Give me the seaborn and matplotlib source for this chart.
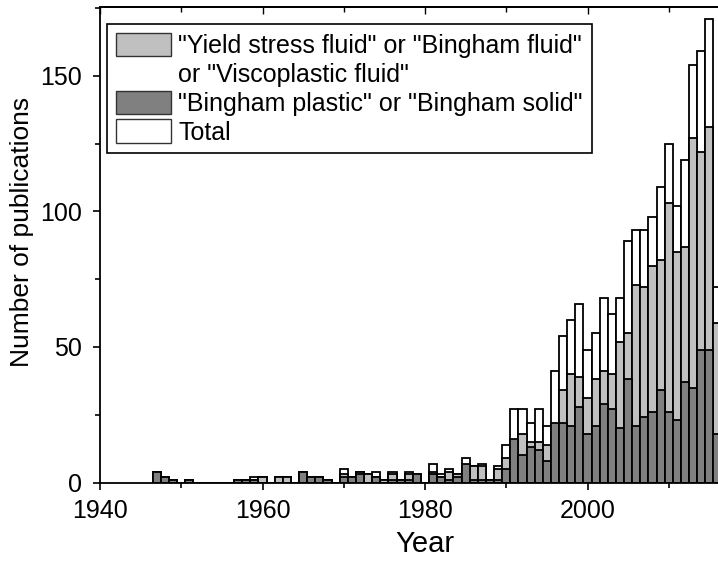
import matplotlib
matplotlib.use("Agg")
import matplotlib.pyplot as plt
import seaborn as sns
import pandas as pd
import numpy as np
from matplotlib.patches import Patch
from matplotlib.ticker import FixedLocator

years = list(range(1947, 2017))
total = [4, 2, 1, 0, 1, 0, 0, 0, 0, 0,          # 1947-1956
         1, 1, 2, 2, 0, 2, 2, 0, 4, 2,          # 1957-1966
         2, 1, 0, 5, 2, 4, 3, 4, 1, 4,          # 1967-1976
         1, 4, 3, 0, 7, 3, 5, 3, 9, 6,          # 1977-1986
         7, 1, 6, 14, 27, 27, 22, 27, 21, 41,   # 1987-1996
         54, 60, 66, 49, 55, 68, 62, 68, 89, 93,  # 1997-2006
         93, 98, 109, 125, 102, 119, 154, 159, 171, 72]  # 2007-2016
yield_stress = [0, 0, 0, 0, 0, 0, 0, 0, 0, 0,
                0, 0, 1, 2, 0, 2, 2, 0, 0, 0,
                0, 0, 0, 3, 0, 4, 3, 2, 1, 3,
                0, 3, 0, 0, 4, 2, 4, 3, 6, 6,
                6, 0, 5, 9, 14, 18, 15, 15, 14, 20,
                34, 40, 39, 31, 38, 41, 40, 52, 55, 73,
                72, 80, 82, 103, 85, 87, 127, 122, 131, 59]
bingham = [4, 2, 1, 0, 1, 0, 0, 0, 0, 0,
           1, 1, 1, 0, 0, 0, 0, 0, 4, 2,
           2, 1, 0, 2, 2, 3, 0, 2, 0, 1,
           1, 1, 3, 0, 3, 2, 1, 2, 7, 1,
           1, 1, 1, 5, 16, 10, 13, 12, 8, 22,
           22, 21, 28, 18, 21, 29, 27, 20, 38, 21,
           24, 26, 34, 26, 23, 37, 35, 49, 49, 18]

x_ticks = [1940, 1960, 1980, 2000]
y_ticks = [0, 50, 100, 150]

labels = ['"Yield stress fluid" or "Bingham fluid"',
          'or "Viscoplastic fluid"',
          '"Bingham plastic" or "Bingham solid"',
          'Total']

df = pd.DataFrame({"Year": years, "total": total,
                   "yield": yield_stress, "bingham": bingham})

plt.rcParams['font.family'] = ['Liberation Sans', 'DejaVu Sans']

W, H = 718, 561
fig = plt.figure(figsize=(W / 100, H / 100), dpi=100)
ax = fig.add_axes([100 / W, (H - 482.5) / H, 650 / W, 475.5 / H])

c_light = "#c0c0c0"
c_dark = "#808080"
lw = 1.3
for col, colr in [("total", "white"), ("yield", c_light), ("bingham", c_dark)]:
    sns.barplot(data=df, x="Year", y=col, native_scale=True, width=1.0,
                color=colr, saturation=1, edgecolor="black", linewidth=lw,
                errorbar=None, ax=ax)

ax.set_xlim(1940, 2020)
ax.set_ylim(0, 175.4)
ax.xaxis.set_major_locator(FixedLocator(x_ticks))
ax.xaxis.set_minor_locator(FixedLocator([1950, 1970, 1990, 2010]))
ax.yaxis.set_major_locator(FixedLocator(y_ticks))
ax.yaxis.set_minor_locator(FixedLocator([25, 75, 125, 175]))
ax.tick_params(which="major", direction="out", length=5, width=1.2,
               labelsize=18)
ax.tick_params(which="minor", direction="out", length=3.5, width=1.2)
ax.tick_params(axis="x", which="major", pad=7)
ax.tick_params(axis="y", which="major", pad=8)
for s in ["left", "bottom", "top"]:
    ax.spines[s].set_linewidth(1.3)
ax.spines["right"].set_visible(False)

sec = ax.secondary_xaxis("top")
sec.xaxis.set_major_locator(FixedLocator(x_ticks))
sec.xaxis.set_minor_locator(FixedLocator([1950, 1970, 1990, 2010]))
sec.tick_params(which="both", direction="in", labeltop=False, width=1.0)
sec.tick_params(which="major", length=5)
sec.tick_params(which="minor", length=3.5)
sec.spines["top"].set_linewidth(1.3)

ax.set_xlabel("Year", fontsize=21, labelpad=5)
ax.set_ylabel("Number of publications", fontsize=19)
ax.yaxis.set_label_coords((34 - 100) / 650, (482.5 - 232) / 475.5)

handles = [Patch(facecolor=c_light, edgecolor="#333333", linewidth=1.0),
           Patch(facecolor="none", edgecolor="none"),
           Patch(facecolor=c_dark, edgecolor="#333333", linewidth=1.0),
           Patch(facecolor="white", edgecolor="#333333", linewidth=1.0)]
leg = ax.legend(handles, labels, loc="upper left",
                bbox_to_anchor=(7 / 650, 1 - 17 / 475.5), borderaxespad=0,
                fontsize=18, frameon=True, fancybox=False, framealpha=1,
                edgecolor="black", handlelength=2.2, handleheight=1.05,
                handletextpad=0.3, labelspacing=0.15, borderpad=0.35)
leg.get_frame().set_linewidth(1.2)

fig.savefig("out.png", dpi=100)
